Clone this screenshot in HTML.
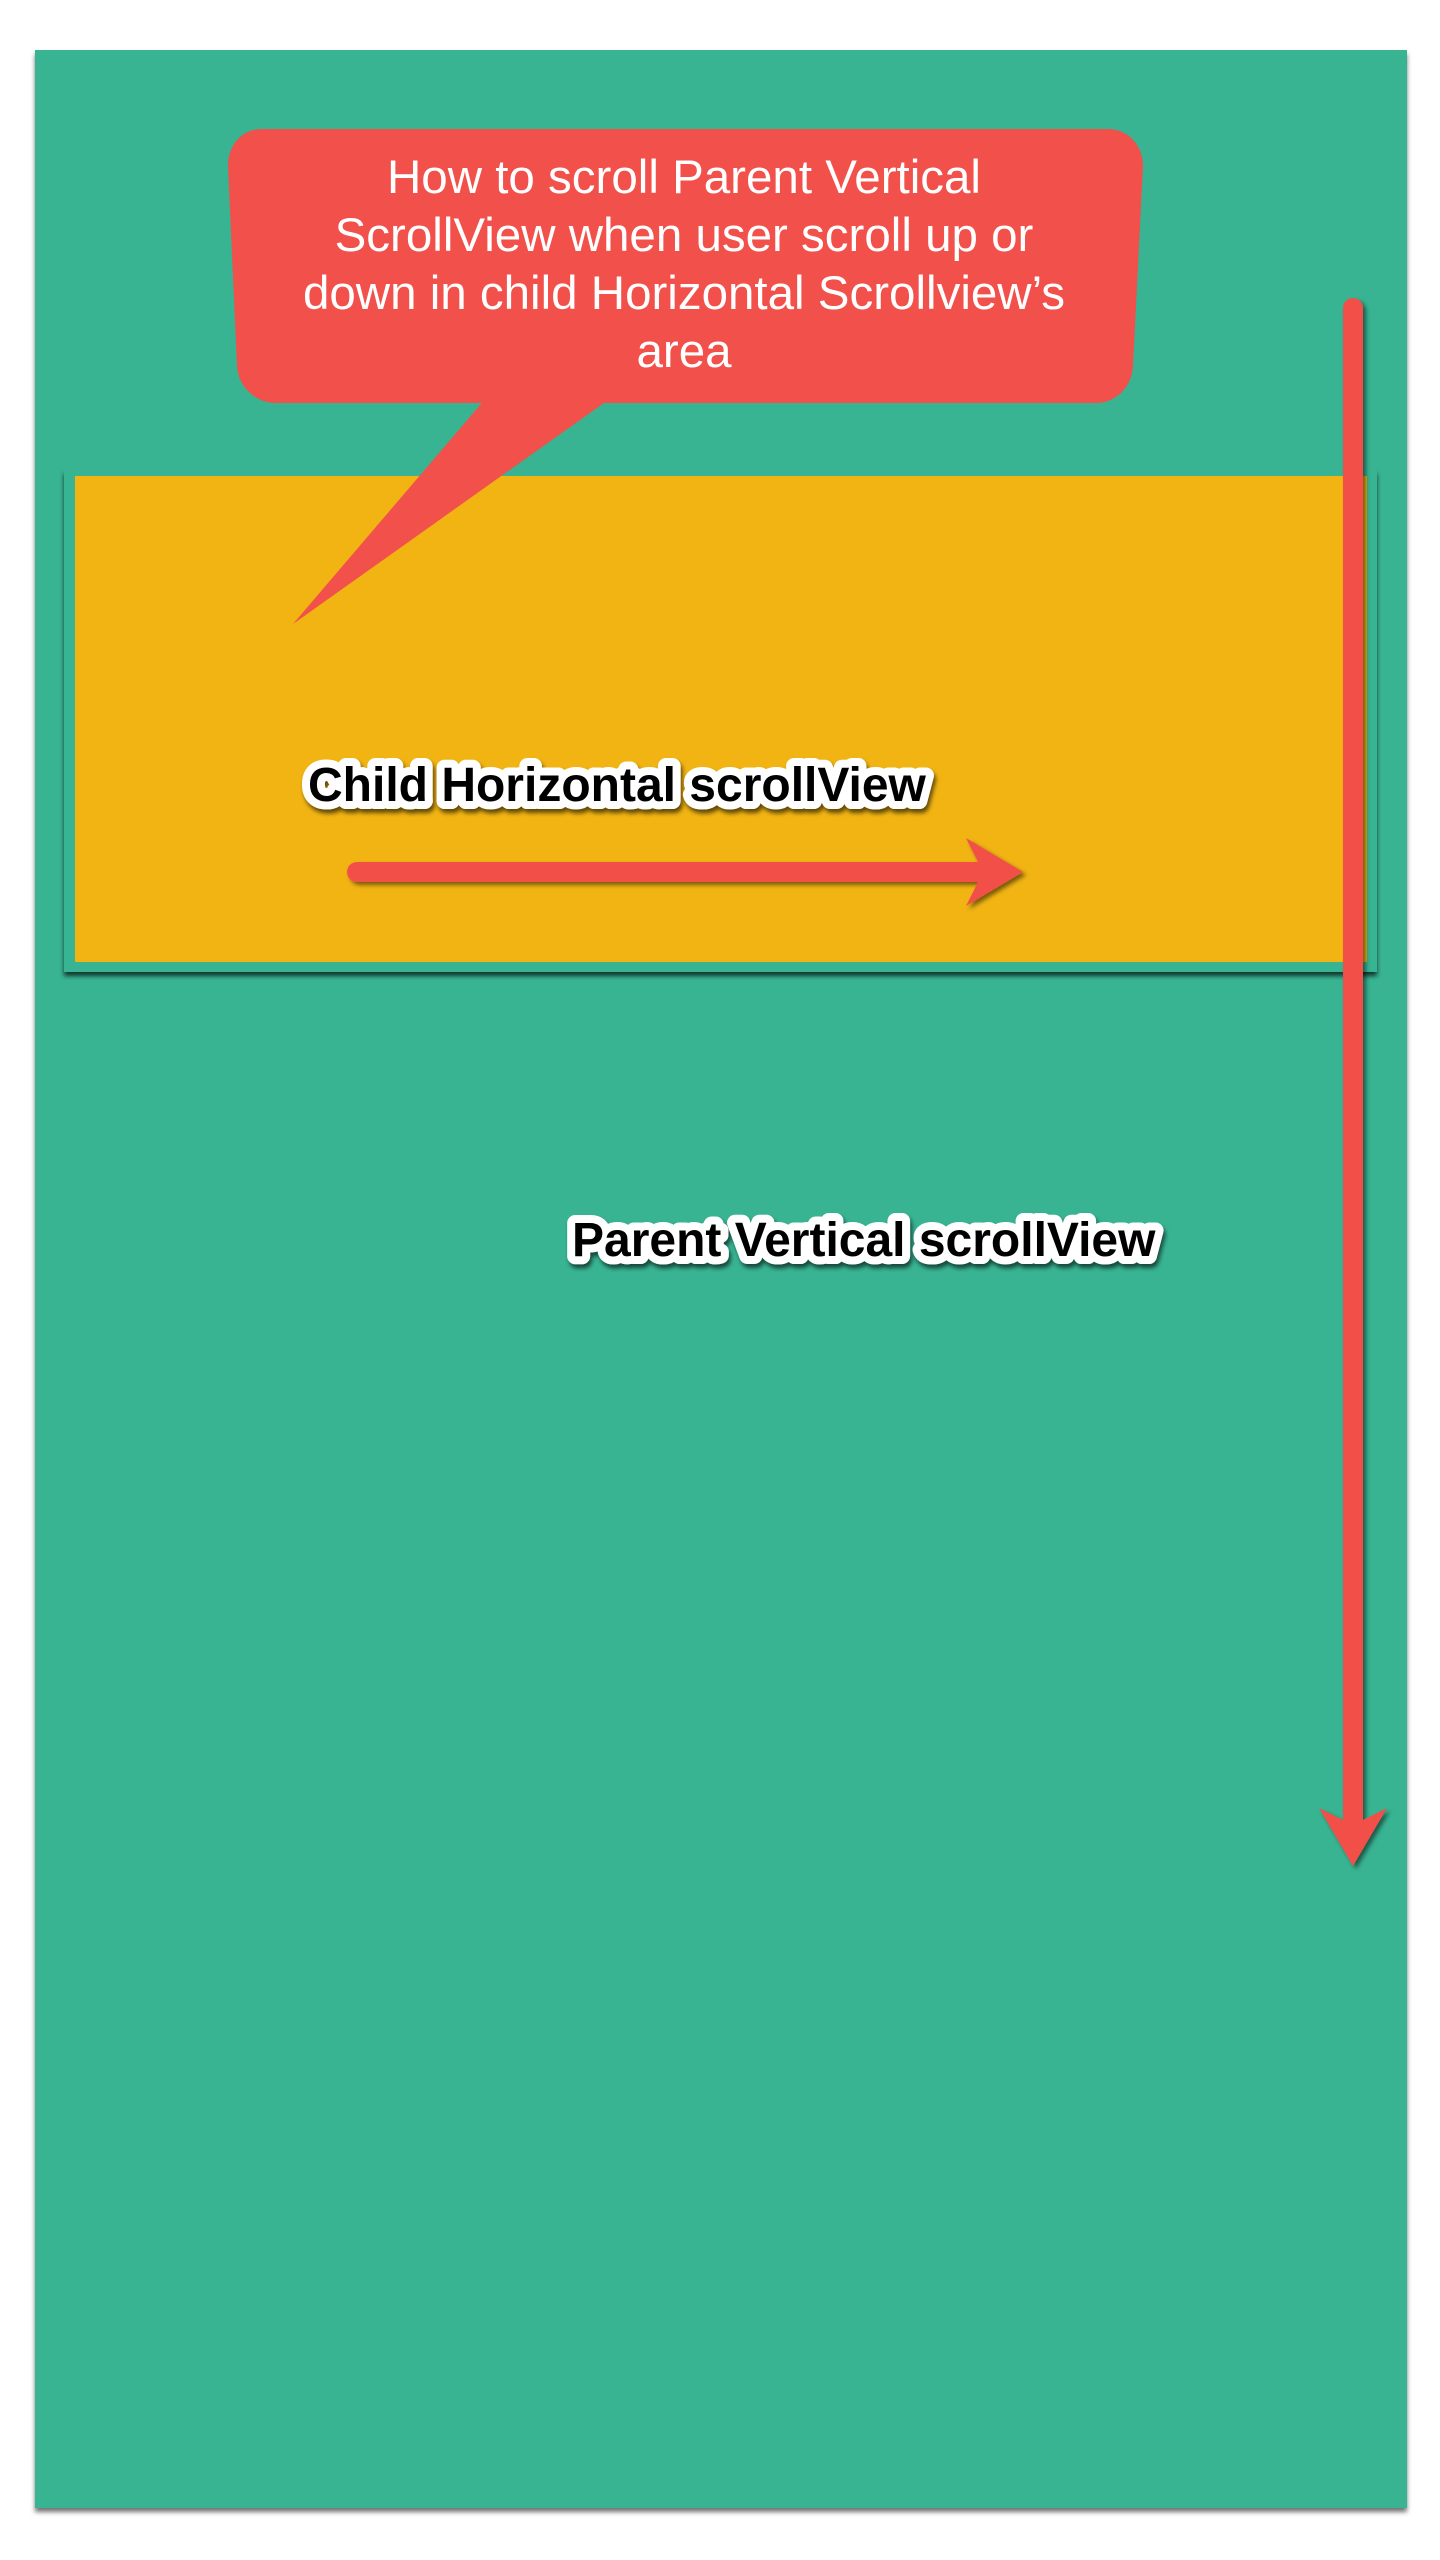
<!DOCTYPE html>
<html>
<head>
<meta charset="utf-8">
<style>
  html, body { margin: 0; padding: 0; background: #ffffff; }
  body { width: 1440px; height: 2560px; overflow: hidden; }
  svg { display: block; }
</style>
</head>
<body>
<svg width="1440" height="2560" viewBox="0 0 1440 2560" xmlns="http://www.w3.org/2000/svg">
  <defs>
    <filter id="pageShadow" x="-5%" y="-5%" width="110%" height="110%">
      <feDropShadow dx="0" dy="4" stdDeviation="2.5" flood-color="#000" flood-opacity="0.55"/>
    </filter>
    <filter id="frameShadow" x="-5%" y="-5%" width="110%" height="115%">
      <feDropShadow dx="0" dy="4" stdDeviation="2.5" flood-color="#000" flood-opacity="0.7"/>
    </filter>
    <filter id="arrowShadow" x="-10%" y="-10%" width="120%" height="120%">
      <feDropShadow dx="3" dy="3" stdDeviation="2" flood-color="#000" flood-opacity="0.5"/>
    </filter>
    <filter id="textShadow" x="-5%" y="-30%" width="110%" height="160%">
      <feDropShadow dx="2" dy="4" stdDeviation="2" flood-color="#000" flood-opacity="0.6"/>
    </filter>
  </defs>

  <!-- Parent green page -->
  <rect x="35" y="50" width="1372" height="2458" fill="#38B493" filter="url(#pageShadow)"/>

  <!-- Child frame + yellow area -->
  <rect x="64" y="470" width="1313" height="502" fill="#38B493" filter="url(#frameShadow)"/>
  <rect x="75" y="476" width="1292" height="486" fill="#F1B413"/>

  <!-- Speech bubble -->
  <path d="M262,129 L1108,129 C1128,129 1143,145 1143,166 L1133,366 C1132,387 1116,403 1096,403 L276,403 C256,403 238,387 237,366 L228,166 C228,145 242,129 262,129 Z" fill="#F2504A"/>
  <polygon points="486,398 611,398 293,624" fill="#F2504A"/>

  <g font-family="'Liberation Sans', Arial, sans-serif" font-size="47.5" fill="#ffffff" text-anchor="middle">
    <text x="684" y="193">How to scroll Parent Vertical</text>
    <text x="684" y="251">ScrollView when user scroll up or</text>
    <text x="684" y="309">down in child Horizontal Scrollview’s</text>
    <text x="684" y="367">area</text>
  </g>

  <!-- Child label -->
  <text x="308" y="801" font-family="'Liberation Sans', Arial, sans-serif" font-weight="bold" font-size="48"
        fill="#000" stroke="#ffffff" stroke-width="16" stroke-linejoin="round" paint-order="stroke"
        filter="url(#textShadow)">Child Horizontal scrollView</text>

  <!-- Horizontal arrow -->
  <path d="M357,862 L978,862 L966,838 L1023,872 L966,906 L978,882 L357,882 A10,10 0 0 1 357,862 Z"
        fill="#F2504A" filter="url(#arrowShadow)"/>

  <!-- Vertical arrow -->
  <path d="M1343,308 A10,10 0 0 1 1363,308 L1363,1820 L1387,1808 L1353,1866 L1319,1808 L1343,1820 Z"
        fill="#F2504A" filter="url(#arrowShadow)"/>

  <!-- Parent label -->
  <text x="572" y="1256" font-family="'Liberation Sans', Arial, sans-serif" font-weight="bold" font-size="48"
        fill="#000" stroke="#ffffff" stroke-width="16" stroke-linejoin="round" paint-order="stroke"
        filter="url(#textShadow)">Parent Vertical scrollView</text>
</svg>
</body>
</html>
